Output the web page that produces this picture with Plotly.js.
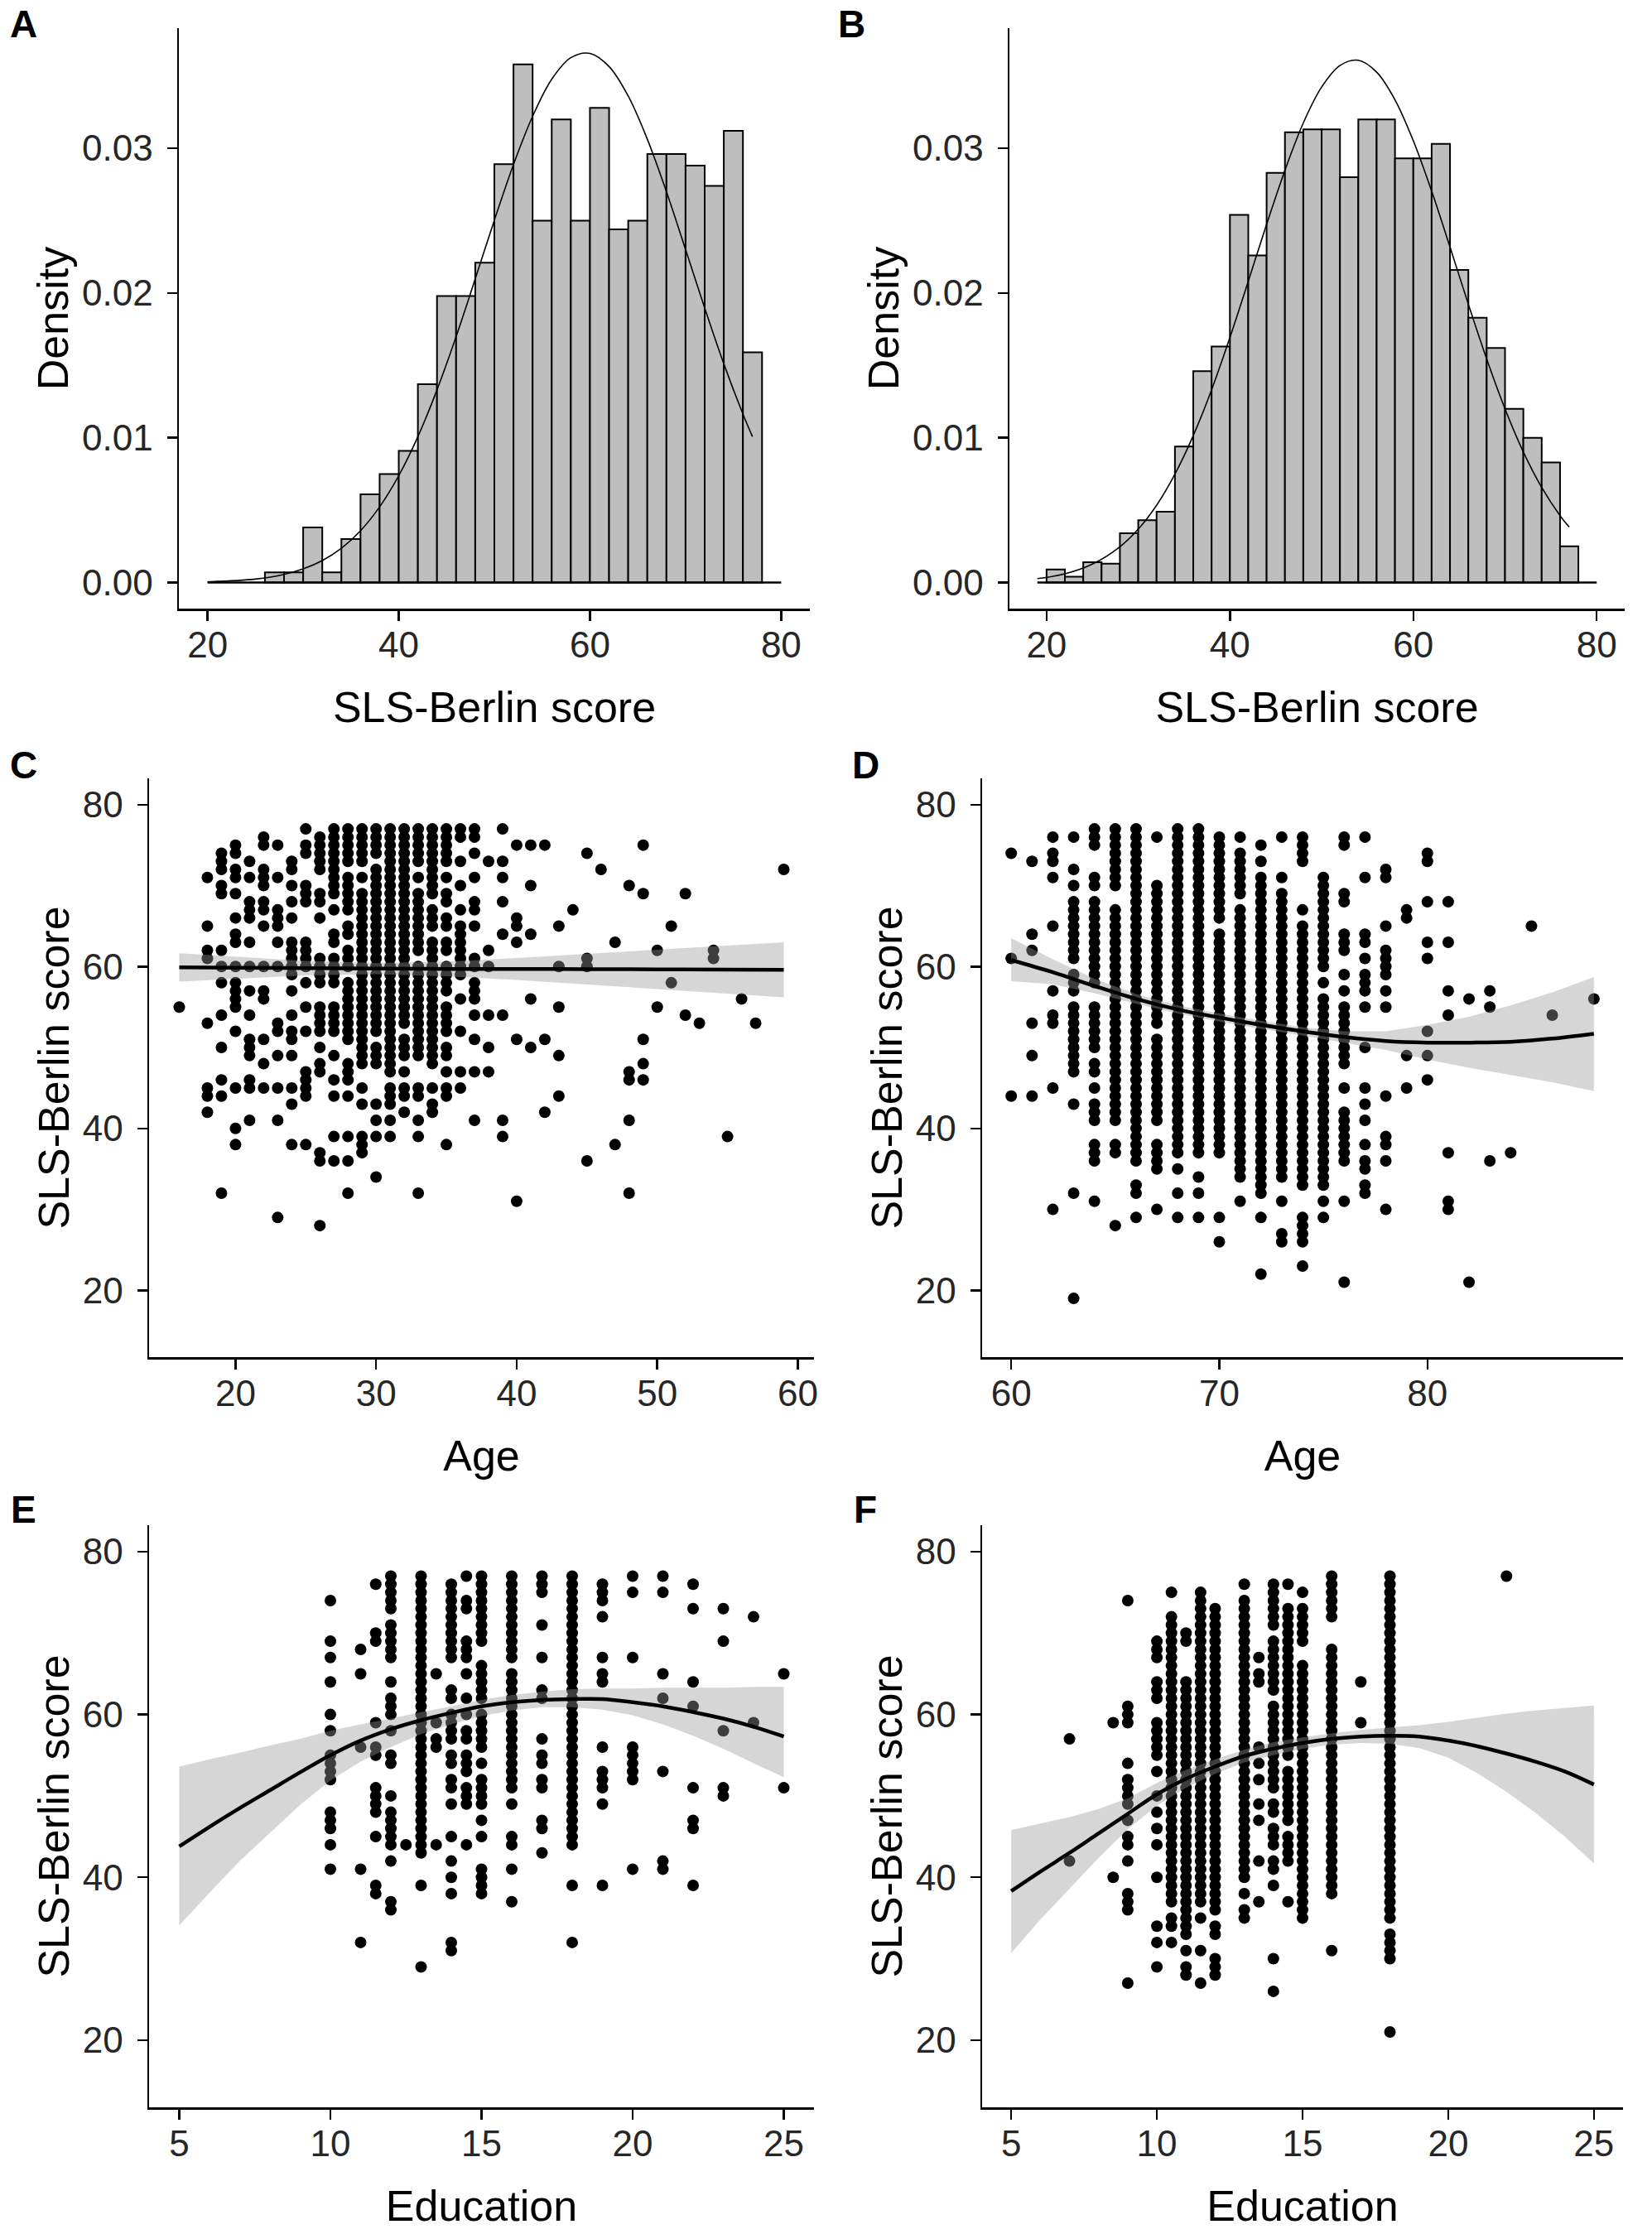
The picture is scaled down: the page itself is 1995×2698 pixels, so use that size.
<!DOCTYPE html>
<html><head><meta charset="utf-8">
<script src="https://cdn.plot.ly/plotly-3.0.1.min.js"></script>
<style>html,body{margin:0;padding:0;background:#fff}</style>
</head><body><div id="chart" style="width:1995px;height:2698px"></div>
<script>
// ---------- Panel A: histogram (density) ----------
const aBinStart = [26,28,30,32,34,36,38,40,42,44,46,48,50,52,54,56,58,60,62,64,66,68,70,72,74,76];
const aDensity  = [0.0007,0.0007,0.0038,0.0007,0.0030,0.0061,0.0075,0.0091,0.0137,0.0198,0.0198,0.0221,0.0289,0.0358,0.0250,0.0320,0.0250,0.0328,0.0244,0.0250,0.0296,0.0296,0.0288,0.0274,0.0312,0.0159];
const aCurveX = [20,25,28,30,32,34,36,38,40,42,44,46,48,50,52,54,56,58,60,62,64,66,68,70,72,74,76,77];
const aCurveY = [0.00005,0.00024,0.00056,0.00094,0.00152,0.00237,0.00358,0.00523,0.00739,0.01008,0.01331,0.01699,0.02098,0.02503,0.02888,0.03221,0.03477,0.03626,0.03656,0.03565,0.03361,0.03063,0.02700,0.02301,0.01897,0.01511,0.01164,0.01008];
const aBaseX = [20,80];

// ---------- Panel B: histogram (density) ----------
const bBinStart = [20,22,24,26,28,30,32,34,36,38,40,42,44,46,48,50,52,54,56,58,60,62,64,66,68,70,72,74,76];
const bDensity  = [0.0009,0.0004,0.0014,0.0013,0.0034,0.0043,0.0049,0.0094,0.0146,0.0163,0.0254,0.0226,0.0283,0.0311,0.0313,0.0313,0.0280,0.0320,0.0320,0.0293,0.0293,0.0303,0.0216,0.0183,0.0162,0.0120,0.0100,0.0083,0.0025];
const bCurveX = [19,22,25,28,30,32,34,36,38,40,42,44,46,48,50,52,54,56,58,60,62,64,66,68,70,72,74,76,77];
const bCurveY = [0.00027,0.00060,0.00127,0.00247,0.00369,0.00534,0.00749,0.01015,0.01332,0.01693,0.02081,0.02475,0.02848,0.03175,0.03423,0.03572,0.03608,0.03526,0.03335,0.03052,0.02704,0.02318,0.01923,0.01545,0.01200,0.00902,0.00657,0.00462,0.00383];
const bBaseX = [19,80];

// ---------- Panel C: Age (young) vs score ----------
const cAge = [16,18,19,20,21,22,23,24,25,26,27,28,29,30,31,32,33,34,35,36,37,38,39,40,41,42,43,44,45,46,47,48,49,50,51,52,53,54,55,56,57,59];
const cScores = [
 [55],
 [71,65,62,61,53,45,44,42],
 [74,73,72,70,69,62,60,58,54,50,46,44,32],
 [75,74,72,71,69,66,64,63,60,58,57,56,55,52,45,40,38],
 [73,71,68,67,66,63,60,57,54,51,50,49,46,45,41],
 [76,75,72,71,70,68,67,65,60,57,56,51,48,45],
 [75,71,67,66,65,63,60,53,52,49,45,41,29],
 [73,72,70,68,66,63,62,61,60,59,57,54,52,51,49,45,43,38],
 [77,75,74,70,69,68,63,62,61,60,58,55,52,47,46,45,44,38],
 [76,75,74,73,72,69,68,66,61,60,59,58,55,54,53,52,50,48,47,37,36,28],
 [77,76,75,74,73,72,71,70,69,67,64,63,61,60,59,58,55,54,53,52,49,46,44,39,36],
 [77,76,75,74,73,71,70,69,68,67,65,64,62,61,60,58,57,56,55,54,53,52,51,48,47,46,44,39,36,32],
 [77,76,75,74,73,71,69,68,67,66,65,64,63,62,61,60,59,58,57,56,55,54,53,52,51,50,49,48,45,43,39,38,37],
 [77,76,75,74,72,71,70,69,68,67,66,65,64,63,62,61,60,59,58,57,56,55,54,53,52,50,49,48,43,41,39,34],
 [77,76,75,74,73,72,71,70,69,68,67,66,65,64,63,62,61,60,59,58,57,56,55,54,53,52,51,50,49,48,47,45,44,43,41,39],
 [77,76,75,74,73,72,71,70,69,68,67,66,65,64,63,62,61,60,59,58,57,56,55,54,53,51,50,49,47,45,44,42],
 [77,76,75,74,73,71,69,68,67,66,65,64,63,62,60,59,58,57,56,55,54,53,52,51,50,49,45,44,41,39,32],
 [77,76,75,74,73,72,71,70,69,67,66,65,63,62,61,60,59,58,57,56,55,54,53,52,51,50,49,48,45,43,42],
 [77,76,75,74,73,71,69,68,66,65,63,62,60,59,58,57,55,54,53,52,50,49,47,45,44,38],
 [77,76,73,70,67,65,64,63,62,61,60,59,56,52,47,45],
 [77,76,74,71,68,67,65,61,60,58,57,56,54,51,47,41],
 [73,62,60,54,50,47],
 [77,73,71,68,64,54,41,39],
 [75,66,65,63,51,31],
 [75,70,64,56,50],
 [75,51,42],
 [65,60,55,49,44],
 [67],
 [74,61,60,36],
 [72],
 [63,38],
 [70,47,46,41,32],
 [75,69,51,48,46],
 [62,55],
 [65,58],
 [69,54],
 [53],
 [62,61],
 [39],
 [56],
 [53],
 [72]
];
const cFitX  = [16,20,25,30,35,40,45,50,55,59];
const cFit   = [59.9,59.85,59.8,59.75,59.7,59.7,59.68,59.65,59.62,59.6];
const cLower = [58.15,58.5,58.9,59.05,58.8,58.35,57.8,57.25,56.65,56.2];
const cUpper = [61.65,61.2,60.7,60.45,60.6,61.05,61.55,62.05,62.55,63.0];

// ---------- Panel D: Age (old) vs score ----------
const dAge = [60,61,62,63,64,65,66,67,68,69,70,71,72,73,74,75,76,77,78,79,80,81,82,83,84,85,86,88];
const dScores = [
 [74,61,44],
 [73,64,62,53,49,44],
 [76,74,73,71,65,57,54,53,45,30],
 [76,72,70,68,67,66,65,64,63,62,61,59,58,57,55,54,53,52,51,50,49,48,47,43,32,19],
 [77,76,75,71,70,68,67,66,65,64,63,62,61,60,59,58,55,54,53,52,51,50,48,47,45,43,42,41,38,37,36,31],
 [77,76,75,74,73,72,71,70,67,66,65,64,63,62,61,60,59,58,57,56,55,54,53,52,51,50,49,48,47,46,45,44,43,42,41,38,37,28],
 [77,76,75,74,73,72,71,70,69,68,67,66,65,64,63,62,61,60,59,58,57,56,55,54,53,52,51,50,49,48,47,46,45,44,43,42,41,40,39,38,37,36,33,32,29],
 [76,70,69,68,67,66,65,64,63,62,61,60,59,58,57,56,55,54,53,51,50,49,48,47,46,45,44,43,42,41,38,37,36,35,30],
 [77,76,75,74,73,72,71,70,69,68,67,66,65,64,63,62,61,60,59,58,57,56,55,54,53,52,51,50,49,48,47,46,45,44,43,42,41,40,39,38,37,35,32,29],
 [77,76,75,74,73,72,71,70,69,68,67,66,65,64,63,62,61,60,59,58,57,56,55,54,53,52,51,50,49,48,47,46,45,44,43,42,41,40,39,38,37,34,32,29],
 [76,75,74,73,72,71,70,69,68,67,66,64,63,62,61,60,59,58,57,56,55,54,53,52,51,50,49,48,47,46,45,44,43,42,41,40,39,38,37,29,26],
 [76,74,73,72,71,70,69,67,66,65,64,63,62,61,60,59,58,57,56,55,54,53,52,51,50,49,48,47,46,45,44,43,42,41,40,39,38,37,36,35,34,31],
 [75,73,71,70,69,68,67,66,65,64,63,62,61,60,59,58,57,56,55,54,53,52,51,50,49,48,47,46,45,44,43,42,41,40,39,38,37,36,35,34,33,32,29,22],
 [76,71,69,68,67,66,65,64,63,62,61,60,59,58,57,56,55,54,53,52,51,50,49,48,47,46,45,44,43,42,41,40,39,38,37,36,35,34,31,27,26],
 [76,75,74,73,67,65,64,63,62,61,60,59,58,57,56,55,54,53,52,51,50,49,48,47,46,45,44,43,42,41,40,39,38,37,36,35,34,33,29,28,27,26,23],
 [71,70,69,68,67,66,65,64,63,62,61,60,58,56,55,54,53,52,51,50,49,48,47,46,45,44,43,42,41,40,39,38,37,36,35,34,33,31,29],
 [76,75,69,68,64,63,62,59,57,55,54,53,52,51,50,49,48,45,42,41,40,39,38,37,36,31,21],
 [76,71,64,63,61,59,58,57,55,50,45,43,41,38,36,35,33,32],
 [72,71,65,62,61,60,59,57,55,44,39,38,36,30],
 [67,66,49,45],
 [74,73,68,63,61,52,49,46],
 [68,63,57,54,37,31,30],
 [56,21],
 [57,55,36],
 [37],
 [65],
 [54],
 [56]
];
const dFitX  = [60,62,64,66,68,70,72,74,76,78,80,82,84,86,88];
const dFit   = [60.8,59.3,57.6,56.0,54.7,53.7,52.8,52.0,51.3,50.8,50.6,50.6,50.7,51.1,51.7];
const dLower = [58.2,57.8,56.7,55.4,54.2,53.2,52.3,51.5,50.6,49.7,48.5,47.5,46.6,45.7,44.6];
const dUpper = [63.5,60.9,58.5,56.6,55.2,54.2,53.3,52.5,52.0,52.0,52.8,53.8,55.2,56.8,58.7];

// ---------- Panel E: Education (young) vs score ----------
const eEdu = [10,11,11.5,12,12.5,13,13.5,14,14.5,15,16,17,18,19,20,21,22,23,24,25];
const eScores = [
 [74,69,67,64,60,58,55,54,53,52,48,47,46,44,41],
 [68,65,56,41,32],
 [76,70,69,59,56,55,51,50,49,48,45,39,38],
 [77,76,75,74,73,71,70,69,68,67,64,62,61,60,58,55,54,50,48,47,46,45,44,42,37,36],
 [44],
 [77,76,75,74,73,72,71,70,69,68,67,66,65,64,63,62,61,60,59,58,57,56,55,54,53,52,51,50,49,48,47,46,45,44,43,39,29],
 [65,59,57,56,44],
 [76,75,74,73,72,71,70,69,68,67,63,62,60,59,58,57,55,54,52,51,49,45,42,40,38,32,31],
 [77,74,73,69,68,67,65,62,60,58,57,55,54,53,51,50,49,44],
 [77,76,75,74,73,72,71,70,69,66,65,64,63,62,60,59,58,57,56,54,52,51,50,49,47,45,41,40,39,38],
 [77,76,75,74,73,72,71,70,69,68,67,65,64,63,62,61,60,59,58,57,56,55,54,53,52,51,49,45,44,41,37],
 [77,76,75,71,67,63,62,57,55,54,52,51,47,46,43],
 [77,76,75,74,73,72,71,70,69,68,67,66,65,64,63,62,61,60,59,58,57,56,55,54,53,52,51,50,49,48,47,46,45,44,39,32],
 [76,75,74,72,67,65,64,56,53,52,51,49,39],
 [77,75,67,56,55,54,53,52,41],
 [77,75,65,62,53,42,41],
 [76,73,64,61,51,47,46,39],
 [73,69,58,51,50],
 [72,59],
 [65,51]
];
const eFitX  = [5,6,7,8,9,10,11,12,13,14,15,16,17,18,19,20,21,22,23,24,25];
const eFit   = [43.8,46.2,48.5,50.7,52.9,55.0,56.8,58.2,59.3,60.2,61.0,61.5,61.8,61.9,61.9,61.5,61.0,60.3,59.5,58.5,57.3];
const eLower = [34.1,38.1,42.0,45.5,48.9,51.9,54.2,56.0,57.6,58.8,59.8,60.5,60.9,60.9,60.6,59.9,58.8,57.4,55.8,54.0,52.3];
const eUpper = [53.6,54.5,55.3,56.2,57.0,58.0,58.8,59.5,60.3,61.0,61.8,62.4,62.8,63.1,63.2,63.2,63.3,63.3,63.3,63.4,63.4];

// ---------- Panel F: Education (old) vs score ----------
const fEdu = [7,8.5,9,10,10.5,11,11.5,12,13,13.5,14,14.5,15,16,17,18,22];
const fScores = [
 [57,42],
 [59,40],
 [74,61,60,59,54,52,51,50,49,47,45,44,42,38,37,36,27],
 [69,68,67,64,63,62,59,58,57,56,55,53,50,48,46,44,40,34,32,29],
 [75,72,71,70,69,68,67,66,65,64,63,62,61,60,59,58,57,56,55,54,53,52,51,50,49,48,47,46,45,44,43,42,41,40,39,38,37,35,34,32],
 [70,69,64,63,62,61,60,59,58,57,56,55,54,53,52,51,50,49,48,47,46,45,44,43,42,41,40,39,38,37,36,35,34,33,31,29,28],
 [75,74,73,72,71,70,69,68,67,66,65,64,63,62,61,60,59,58,57,56,55,54,53,52,51,50,49,48,47,46,45,44,43,42,41,40,39,38,37,35,31,27],
 [73,72,71,70,69,68,67,66,65,64,63,62,61,60,59,58,57,56,55,54,53,52,51,50,49,48,47,46,45,44,43,42,41,40,39,38,37,36,34,33,30,29,28],
 [76,74,73,72,71,70,69,68,67,66,65,64,63,62,61,60,59,58,57,56,55,54,53,52,51,50,49,48,47,46,45,44,43,42,41,40,38,36,35],
 [67,65,64,56,54,52,49,47,42,37],
 [76,75,74,73,72,71,69,68,67,66,65,64,63,61,60,59,58,57,56,55,54,53,52,51,49,48,46,45,44,42,41,39,30,26],
 [76,73,72,71,70,69,68,67,66,65,64,63,62,61,60,59,58,57,56,55,53,52,51,50,49,48,47,45,44,43,42,37],
 [75,73,72,71,70,69,66,65,64,63,62,61,60,59,58,57,56,55,54,53,52,51,50,49,48,47,46,45,44,43,42,41,40,39,38,37,36,35],
 [77,76,75,74,73,72,68,67,66,65,64,63,62,61,60,59,58,57,56,55,54,53,52,51,50,49,48,47,46,45,44,43,42,41,40,39,38,31],
 [64,59],
 [77,76,75,74,73,72,71,70,69,68,67,66,65,64,63,62,61,60,59,58,57,56,55,54,53,52,51,50,49,48,47,46,45,44,43,42,41,40,39,38,37,36,35,33,32,31,30,21],
 [77]
];
const fFitX  = [5,6,7,8,9,10,11,12,13,14,15,16,17,18,19,20,21,22,23,24,25];
const fFit   = [38.3,40.7,43.0,45.4,47.8,50.2,52.1,53.6,54.9,55.8,56.5,57.0,57.3,57.4,57.3,56.8,56.1,55.2,54.2,53.0,51.4];
const fLower = [30.7,34.8,38.6,42.4,45.9,48.8,51.0,52.7,54.1,55.0,55.8,56.3,56.5,56.4,55.9,54.7,52.8,50.5,47.9,45.0,41.7];
const fUpper = [45.8,46.6,47.4,48.4,49.7,51.6,53.2,54.5,55.7,56.6,57.2,57.7,58.1,58.4,58.7,59.1,59.6,60.1,60.5,60.8,61.1];

// ---------- tick labels / titles ----------
const histXTicks = [20,40,60,80];
const histYTicks = [0,0.01,0.02,0.03];
const histYLabels = ['0.00','0.01','0.02','0.03'];
const scoreTicks = [20,40,60,80];
const ageYoungTicks = [20,30,40,50,60];
const ageOldTicks = [60,70,80];
const eduTicks = [5,10,15,20,25];
const panelLetters = ['A','B','C','D','E','F'];

// ---------- layout geometry (pixels) ----------
const W = 1995, H = 2698;
const FONT = 'Liberation Sans, Arial, Helvetica, sans-serif';
const colsPx = { A:[216,978], B:[1219,1962], C:[180,983], D:[1186,1960], E:[180,983], F:[1186,1960] };
const rowsPx = [[34,735],[940,1639],[1842,2545]];
const dom = (p) => [p[0]/W, p[1]/W];
const domY = (r) => [1 - r[1]/H, 1 - r[0]/H];

function flatten(xs, cols) {
  const x = [], y = [];
  xs.forEach((v, i) => cols[i].forEach(s => { x.push(v); y.push(s); }));
  return {x, y};
}

const traces = [];
function histTraces(ax, binStart, dens, cx, cy, baseX) {
  traces.push({type:'bar', x:binStart, y:dens, width:2, offset:0, xaxis:'x'+ax, yaxis:'y'+ax,
    marker:{color:'#bebebe', line:{color:'#000', width:2}}, hoverinfo:'skip'});
  traces.push({type:'scatter', mode:'lines', x:baseX, y:[0,0], xaxis:'x'+ax, yaxis:'y'+ax,
    line:{color:'#000', width:2.5}, hoverinfo:'skip'});
  traces.push({type:'scatter', mode:'lines', x:cx, y:cy, xaxis:'x'+ax, yaxis:'y'+ax,
    line:{color:'#000', width:1.6, shape:'spline'}, hoverinfo:'skip'});
}
function scatterTraces(ax, xs, cols, fx, fit, lo, up) {
  const p = flatten(xs, cols);
  traces.push({type:'scatter', mode:'markers', x:p.x, y:p.y, xaxis:'x'+ax, yaxis:'y'+ax,
    marker:{color:'#000', size:14}, hoverinfo:'skip'});
  traces.push({type:'scatter', mode:'lines', x:fx.concat(fx.slice().reverse()), y:up.concat(lo.slice().reverse()),
    fill:'toself', fillcolor:'rgba(153,153,153,0.4)', line:{width:0, color:'rgba(0,0,0,0)'},
    xaxis:'x'+ax, yaxis:'y'+ax, hoverinfo:'skip'});
  traces.push({type:'scatter', mode:'lines', x:fx, y:fit, xaxis:'x'+ax, yaxis:'y'+ax,
    line:{color:'#000', width:4.5, shape:'spline'}, hoverinfo:'skip'});
}

histTraces('', aBinStart, aDensity, aCurveX, aCurveY, aBaseX);
histTraces('2', bBinStart, bDensity, bCurveX, bCurveY, bBaseX);
scatterTraces('3', cAge, cScores, cFitX, cFit, cLower, cUpper);
scatterTraces('4', dAge, dScores, dFitX, dFit, dLower, dUpper);
scatterTraces('5', eEdu, eScores, eFitX, eFit, eLower, eUpper);
scatterTraces('6', fEdu, fScores, fFitX, fFit, fLower, fUpper);

function xAx(domPx, range, ticks, title, anchor) {
  return {domain:dom(domPx), range:range, anchor:anchor, tickvals:ticks, ticktext:ticks.map(String),
    ticks:'outside', ticklen:12, tickwidth:2.5, tickcolor:'#000', ticklabelstandoff:-8,
    showline:true, linewidth:2.5, linecolor:'#000', showgrid:false, zeroline:false, fixedrange:true,
    tickfont:{family:FONT, size:44, color:'#262626'},
    title:{text:title, font:{family:FONT, size:52, color:'#000'}, standoff:34}};
}
function yAx(rowPx, range, ticks, labels, title, anchor) {
  return {domain:domY(rowPx), range:range, anchor:anchor, tickvals:ticks, ticktext:labels,
    ticks:'outside', ticklen:12, tickwidth:2.5, tickcolor:'#000', ticklabelstandoff:8,
    showline:true, linewidth:2.5, linecolor:'#000', showgrid:false, zeroline:false, fixedrange:true,
    tickfont:{family:FONT, size:44, color:'#262626'},
    title:{text:title, font:{family:FONT, size:52, color:'#000'}, standoff:0}};
}
const histYRange = [-0.0018, 0.0383];
const scoreRange = [11.75, 83.25];
const scoreLabels = scoreTicks.map(String);

const layout = {
  width:W, height:H, margin:{l:0,r:0,t:0,b:0}, paper_bgcolor:'#fff', plot_bgcolor:'rgba(0,0,0,0)',
  showlegend:false, hovermode:false, barmode:'overlay', bargap:0,
  xaxis:  xAx(colsPx.A, [17,83], histXTicks, 'SLS-Berlin score', 'y'),
  yaxis:  yAx(rowsPx[0], histYRange, histYTicks, histYLabels, 'Density', 'x'),
  xaxis2: xAx(colsPx.B, [15.95,83.05], histXTicks, 'SLS-Berlin score', 'y2'),
  yaxis2: yAx(rowsPx[0], histYRange, histYTicks, histYLabels, 'Density', 'x2'),
  xaxis3: xAx(colsPx.C, [13.85,61.15], ageYoungTicks, 'Age', 'y3'),
  yaxis3: yAx(rowsPx[1], scoreRange, scoreTicks, scoreLabels, 'SLS-Berlin score', 'x3'),
  xaxis4: xAx(colsPx.D, [58.6,89.4], ageOldTicks, 'Age', 'y4'),
  yaxis4: yAx(rowsPx[1], scoreRange, scoreTicks, scoreLabels, 'SLS-Berlin score', 'x4'),
  xaxis5: xAx(colsPx.E, [4,26], eduTicks, 'Education', 'y5'),
  yaxis5: yAx(rowsPx[2], scoreRange, scoreTicks, scoreLabels, 'SLS-Berlin score', 'x5'),
  xaxis6: xAx(colsPx.F, [4,26], eduTicks, 'Education', 'y6'),
  yaxis6: yAx(rowsPx[2], scoreRange, scoreTicks, scoreLabels, 'SLS-Berlin score', 'x6'),
  annotations: []
};
// panel letters: [x centre px, y px, vertical anchor]
const labelPos = [[28,2,'top'],[1028,2,'top'],[28,924,'middle'],[1045,924,'middle'],[28,1823,'middle'],[1045,1823,'middle']];
panelLetters.forEach((L, i) => {
  layout.annotations.push({text:'<b>'+L+'</b>', xref:'paper', yref:'paper',
    x:labelPos[i][0]/W, y:1 - labelPos[i][1]/H, xanchor:'center', yanchor:labelPos[i][2], showarrow:false,
    borderpad:0, font:{family:FONT, size:46, color:'#000'}});
});

Plotly.newPlot('chart', traces, layout, {staticPlot:true, displayModeBar:false});
</script></body></html>
